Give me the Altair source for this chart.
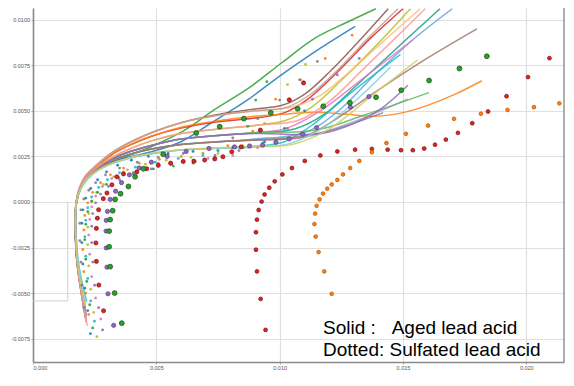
import altair as alt
import pandas as pd

# ---------------- data (values in units of 1e-3) ----------------
X_MAX = 21.53
Y_MIN, Y_MAX = -8.78, 10.64
X_TICKS = [0, 5, 10, 15, 20]
Y_TICKS = [-7.5, -5.0, -2.5, 0.0, 2.5, 5.0, 7.5, 10.0]

# Solid lines: aged lead acid
SOLID_01 = [(2.12,-6.0),(1.96,-4.9),(1.80,-3.4),(1.73,-2.0),(1.72,-0.8),(1.76,0.0),(1.90,0.7),(2.15,1.25),(2.6,1.75),(3.2,2.15),(4.0,2.6),(4.9,3.1),(6.1,3.9),(7.4,5.1),(8.8,6.3),(10.1,7.65),(11.45,9.0),(12.8,9.9),(13.9,10.6)]
SOLID_02 = [(2.10,-5.6),(1.95,-4.7),(1.80,-3.3),(1.73,-1.9),(1.72,-0.7),(1.77,0.05),(1.92,0.75),(2.2,1.35),(2.7,1.85),(3.3,2.25),(4.0,2.5),(4.8,2.75),(6.0,3.3),(7.3,4.4),(8.7,5.6),(10.1,7.0),(11.5,8.3),(13.06,9.63)]
SOLID_03 = [(2.14,-6.3),(1.97,-5.0),(1.80,-3.5),(1.72,-2.0),(1.71,-0.8),(1.75,0.0),(1.88,0.75),(2.12,1.4),(2.6,2.05),(3.2,2.7),(3.9,3.25),(4.8,3.8),(6.0,4.35),(7.5,4.8),(9.0,5.1),(10.1,5.3),(11.0,5.9),(12.0,7.1),(13.2,8.8),(14.4,10.6)]
SOLID_04 = [(2.10,-6.1),(1.95,-4.9),(1.79,-3.4),(1.72,-2.0),(1.72,-0.8),(1.76,0.0),(1.89,0.72),(2.14,1.35),(2.6,1.95),(3.2,2.6),(3.9,3.1),(4.8,3.6),(6.0,4.05),(7.5,4.4),(9.0,4.6),(10.2,4.9),(11.2,5.7),(12.4,7.2),(13.7,9.0),(15.0,10.6)]
SOLID_05 = [(2.16,-6.6),(1.98,-5.2),(1.81,-3.6),(1.73,-2.1),(1.72,-0.8),(1.76,0.0),(1.90,0.72),(2.15,1.35),(2.6,1.95),(3.2,2.6),(3.9,3.1),(4.8,3.6),(6.0,4.1),(7.5,4.45),(9.0,4.7),(10.5,4.85),(11.5,4.92),(12.6,4.82),(13.9,4.7),(15.0,4.9),(16.0,5.3),(17.1,5.9),(18.2,6.65)]
SOLID_06 = [(2.12,-6.2),(1.96,-5.0),(1.80,-3.5),(1.73,-2.0),(1.72,-0.8),(1.77,0.0),(1.91,0.7),(2.16,1.3),(2.6,1.9),(3.2,2.45),(3.9,2.9),(4.8,3.35),(6.0,3.75),(7.5,4.0),(9.0,4.2),(10.2,4.45),(11.3,5.2),(12.6,6.8),(14.0,8.7),(15.3,10.6)]
SOLID_07 = [(2.18,-6.5),(2.0,-5.1),(1.82,-3.5),(1.74,-2.0),(1.72,-0.8),(1.75,0.0),(1.87,0.75),(2.1,1.4),(2.6,2.05),(3.2,2.7),(3.9,3.25),(4.8,3.8),(6.0,4.35),(7.5,4.75),(9.0,5.0),(10.5,5.2),(11.6,5.8),(12.8,7.1),(14.2,8.8),(15.7,10.6)]
SOLID_08 = [(2.08,-5.7),(1.94,-4.7),(1.79,-3.3),(1.72,-1.9),(1.71,-0.7),(1.76,0.05),(1.90,0.72),(2.15,1.3),(2.6,1.85),(3.2,2.35),(3.9,2.75),(4.8,3.1),(6.0,3.45),(7.5,3.65),(9.0,3.8),(10.6,4.0),(11.8,4.8),(13.2,6.5),(14.8,8.5),(16.5,10.6)]
SOLID_09 = [(2.14,-6.4),(1.97,-5.0),(1.81,-3.5),(1.73,-2.0),(1.72,-0.8),(1.77,0.0),(1.92,0.7),(2.18,1.28),(2.6,1.8),(3.2,2.25),(3.9,2.6),(4.8,2.9),(6.0,3.15),(7.5,3.3),(9.0,3.45),(11.0,3.8),(12.3,4.9),(13.8,6.9),(15.4,8.9),(17.0,10.6)]
SOLID_10 = [(2.18,-5.45),(2.02,-4.6),(1.84,-3.3),(1.75,-1.9),(1.73,-0.7),(1.78,0.05),(1.93,0.7),(2.2,1.25),(2.6,1.7),(3.2,2.1),(3.9,2.4),(4.8,2.65),(6.0,2.85),(7.5,2.95),(9.0,3.05),(10.2,3.3),(11.4,4.3),(12.9,6.0),(14.9,8.1)]
SOLID_11 = [(2.14,-6.45),(1.97,-5.1),(1.81,-3.6),(1.73,-2.1),(1.72,-0.8),(1.76,0.0),(1.90,0.72),(2.15,1.32),(2.6,1.85),(3.2,2.35),(3.9,2.75),(4.8,3.1),(6.0,3.45),(7.5,3.65),(9.0,3.8),(10.3,4.05),(11.6,4.95),(13.4,6.8),(15.4,8.9)]
SOLID_12 = [(2.1,-6.0),(1.95,-4.9),(1.80,-3.4),(1.73,-2.0),(1.72,-0.8),(1.77,0.0),(1.91,0.7),(2.16,1.3),(2.6,1.8),(3.2,2.25),(3.9,2.6),(4.8,2.9),(6.0,3.15),(7.5,3.3),(9.0,3.4),(11.0,3.55),(13.0,4.4),(15.2,5.65)]
SOLID_13 = [(2.12,-5.8),(1.96,-4.8),(1.80,-3.4),(1.73,-2.0),(1.72,-0.8),(1.76,0.0),(1.9,0.7),(2.15,1.3),(2.6,1.85),(3.2,2.35),(3.9,2.75),(4.8,3.1),(6.0,3.45),(7.5,3.65),(9.0,3.8),(11.5,3.95),(13.5,4.8),(16.05,6.0)]
SOLID_14 = [(2.16,-6.2),(1.98,-5.0),(1.81,-3.5),(1.73,-2.0),(1.72,-0.8),(1.77,0.0),(1.91,0.7),(2.16,1.3),(2.6,1.8),(3.2,2.25),(3.9,2.6),(4.8,2.9),(6.0,3.15),(7.5,3.3),(9.0,3.4),(10.2,3.5),(12.0,3.9),(14.2,4.9)]
SOLID_15 = [(2.12,-5.9),(1.96,-4.8),(1.80,-3.4),(1.73,-2.0),(1.72,-0.8),(1.77,0.0),(1.91,0.7),(2.16,1.3),(2.6,1.8),(3.2,2.25),(3.9,2.6),(4.8,2.9),(6.0,3.15),(7.5,3.3),(9.0,3.4),(10.9,3.55),(12.0,4.3),(13.9,6.05),(16.0,7.9),(18.0,9.5)]
SOLID_16 = [(2.14,-6.3),(1.97,-5.0),(1.81,-3.5),(1.73,-2.0),(1.72,-0.8),(1.76,0.0),(1.9,0.72),(2.15,1.32),(2.6,1.85),(3.2,2.35),(3.9,2.75),(4.8,3.1),(6.0,3.45),(7.5,3.65),(9.0,3.75),(11.7,3.75),(13.0,4.3),(14.1,5.1),(15.2,6.4)]
SOLID_17 = [(2.2,-6.8),(2.0,-5.3),(1.82,-3.7),(1.74,-2.1),(1.72,-0.8),(1.76,0.0),(1.90,0.72),(2.15,1.33),(2.6,1.9),(3.2,2.45),(3.9,2.9),(4.8,3.35),(6.0,3.75),(7.5,4.0),(9.0,4.2),(10.8,4.5),(12.0,5.5),(13.4,7.3),(14.7,9.0),(15.9,10.6)]
SOLID_18 = [(2.15,-5.5),(2.0,-4.6),(1.83,-3.3),(1.75,-1.9),(1.73,-0.7),(1.78,0.05),(1.93,0.7),(2.2,1.25),(2.6,1.7),(3.2,2.1),(3.9,2.4),(4.8,2.65),(6.0,2.85),(7.5,2.95),(9.0,3.0),(10.4,3.2),(11.8,4.1),(13.2,5.7),(14.5,7.4)]
SOLID_19 = [(2.16,-6.3),(1.98,-5.0),(1.81,-3.5),(1.73,-2.0),(1.71,-0.8),(1.75,0.0),(1.88,0.75),(2.12,1.4),(2.6,2.05),(3.2,2.7),(3.9,3.25),(4.8,3.8),(6.0,4.35),(7.5,4.75),(9.0,5.0),(10.3,5.2),(11.3,5.95),(12.4,7.3),(13.6,9.0),(14.8,10.6)]
SOLID_20 = [(2.12,-5.7),(1.96,-4.7),(1.81,-3.3),(1.73,-1.9),(1.72,-0.7),(1.77,0.05),(1.92,0.7),(2.18,1.27),(2.6,1.72),(3.2,2.12),(3.9,2.42),(4.8,2.67),(6.0,2.87),(7.5,2.97),(9.0,3.05),(10.5,3.15),(12.0,4.0),(13.8,5.9),(15.6,7.8)]

# Dotted series: sulfated lead acid
DOT_RED_LOOP = [(9.43,-7.02),(9.23,-5.32),(9.08,-3.81),(9.04,-2.62),(9.04,-1.66),(9.08,-0.97),(9.15,-0.44),(9.27,0.02),(9.39,0.41),(9.58,0.78),(9.80,1.13),(10.11,1.51),(10.50,1.86),(11.02,2.25),(11.65,2.55),(12.34,2.77),(13.06,2.87),(13.74,2.91),(14.38,2.87),(14.92,2.84),(15.40,2.84),(15.86,2.93),(16.30,3.14),(16.74,3.42),(17.23,3.79),(17.81,4.32),(18.45,4.96),(19.20,5.80),(20.07,6.85),(20.94,7.89)]
DOT_ORANGE_LOOP = [(12.11,-5.04),(11.81,-3.81),(11.58,-2.75),(11.46,-1.90),(11.41,-1.21),(11.44,-0.64),(11.50,-0.21),(11.62,0.14),(11.76,0.46),(11.93,0.73),(12.11,0.96),(12.34,1.21),(12.57,1.51),(12.86,1.86),(13.23,2.25),(13.74,2.73),(14.33,3.23),(15.12,3.74),(16.02,4.19),(17.07,4.56),(18.16,4.84),(19.24,5.05),(20.31,5.20),(21.34,5.41)]
DOT_GREEN_BIG = [(3.60,-6.65),(3.31,-5.00),(3.13,-3.55),(3.09,-2.46),(3.09,-1.60),(3.13,-0.97),(3.23,-0.48),(3.33,0.14),(3.55,0.45),(3.87,0.85),(4.14,1.38),(4.48,1.82),(5.28,2.62),(6.62,3.78),(7.57,4.13),(8.55,4.57),(9.64,4.89),(10.73,5.11),(11.77,5.25),(12.85,5.44),(13.91,5.74),(14.93,6.13),(16.06,6.66),(17.29,7.32),(18.40,7.99)]
DOT_PURPLE = [(3.27,-6.77),(3.04,-5.04),(3.00,-3.58),(2.97,-2.52),(2.96,-1.60),(2.97,-1.01),(3.02,-0.52),(3.13,0.14),(3.35,0.59),(3.59,1.06),(3.91,1.49),(4.31,1.86),(4.80,2.18),(5.44,2.50),(6.21,2.77),(7.14,2.93),(8.17,3.02),(8.78,3.07),(9.31,3.12),(9.85,3.28),(10.39,3.46),(10.93,3.72),(11.50,4.08),(12.87,5.20),(13.62,5.78)]
DOT_RED = [(2.86,-5.97),(2.67,-4.56),(2.57,-3.26),(2.55,-2.25),(2.57,-1.45),(2.61,-0.89),(2.66,-0.43),(2.85,0.18),(3.00,0.49),(3.20,0.94),(3.40,1.38),(3.67,1.54),(4.21,1.65),(4.61,1.82),(5.08,2.01),(5.58,2.13),(6.09,2.22),(6.53,2.23),(6.96,2.30),(7.37,2.36),(7.70,2.48),(8.06,2.75),(8.44,3.02),(9.22,3.94),(10.39,5.60),(10.97,6.53)]
DOT_BLUE = [(2.33,-7.22),(2.22,-5.96),(2.10,-4.73),(2.02,-3.40),(1.98,-2.23),(1.98,-1.17),(2.02,-0.43),(2.14,0.21),(2.34,0.74),(2.62,1.22),(2.98,1.65),(3.43,2.02),(3.99,2.29),(4.68,2.50),(5.48,2.66),(6.49,2.77),(7.50,2.82),(8.51,2.98),(9.39,3.30),(10.20,4.04),(11.01,5.00)]
DOT_ORANGE = [(2.26,-6.17),(2.14,-5.00),(2.06,-3.83),(2.02,-2.61),(2.06,-1.54),(2.10,-0.74),(2.22,-0.05),(2.42,0.53),(2.74,1.06),(3.14,1.49),(3.67,1.86),(4.31,2.13),(5.12,2.34),(6.01,2.50),(6.89,2.66),(7.90,3.09),(8.91,3.88),(9.84,5.64),(10.85,6.70),(11.85,7.87),(12.94,9.15)]
DOT_PINK = [(2.75,-6.42),(2.54,-5.27),(2.38,-4.10),(2.30,-2.87),(2.26,-1.81),(2.30,-0.96),(2.38,-0.27),(2.54,0.32),(2.82,0.85),(3.19,1.28),(3.67,1.65),(4.27,1.91),(5.08,2.13),(6.09,2.29),(7.10,2.39),(8.10,2.55),(9.11,2.98),(10.04,3.78)]
DOT_CYAN = [(2.49,-6.54),(2.34,-5.43),(2.22,-4.20),(2.14,-2.98),(2.10,-1.91),(2.14,-1.01),(2.22,-0.32),(2.38,0.27),(2.66,0.80),(3.02,1.22),(3.51,1.60),(4.15,1.91),(4.96,2.18),(5.89,2.39),(6.89,2.55),(7.50,2.82),(8.51,2.98),(9.31,3.24)]
DOT_OLIVE = [(2.59,-7.39),(2.46,-6.06),(2.34,-4.79),(2.26,-3.51),(2.22,-2.34),(2.22,-1.38),(2.26,-0.64),(2.38,0.0),(2.58,0.53),(2.86,0.96),(3.27,1.38),(3.83,1.76),(4.56,2.07),(5.40,2.29),(6.41,2.45),(7.50,2.66),(8.51,3.09),(9.39,4.31),(10.32,6.44),(11.05,7.55)]
DOT_GRAY = [(2.06,-5.80),(1.98,-4.57),(1.94,-3.30),(1.90,-2.13),(1.90,-1.17),(1.94,-0.43),(2.06,0.16),(2.26,0.64),(2.54,1.06),(2.94,1.49),(3.51,1.86),(4.23,2.18),(5.08,2.45),(6.09,2.66),(7.10,2.98),(8.10,3.51),(9.11,4.57),(10.00,5.59),(10.81,6.70),(11.53,7.71)]
DOT_GREEN = [(2.42,-6.91),(2.30,-5.64),(2.18,-4.36),(2.14,-3.14),(2.10,-2.07),(2.14,-1.22),(2.22,-0.53),(2.38,0.05),(2.62,0.53),(2.98,0.96),(3.47,1.33),(4.07,1.60),(4.88,1.81),(5.69,1.97),(6.49,2.13),(7.38,2.45),(8.10,2.98),(8.71,4.15),(9.03,5.59),(9.48,6.60)]
DOT_LAVENDER = [(2.82,-7.02),(2.66,-5.80),(2.50,-4.57),(2.42,-3.30),(2.38,-2.23),(2.38,-1.33),(2.42,-0.64),(2.54,-0.05),(2.74,0.43),(3.06,0.85),(3.51,1.22),(4.07,1.54),(4.80,1.81),(5.60,2.07),(6.49,2.29),(7.38,2.55),(8.35,2.82),(9.31,3.09),(10.32,4.04),(11.33,5.64),(12.34,6.97),(13.23,7.87)]

# faint box outline at the lower left
BOX_X = [0.0, 1.41, 1.41]
BOX_Y = [-5.43, -5.43, 0.0]

TEXT_LINE_1 = "Solid :\u00a0\u00a0\u00a0Aged lead acid"
TEXT_LINE_2 = "Dotted: Sulfated lead acid"

# ---------------- styles ----------------
SOLID_SERIES = [
    ("s01", SOLID_01, "#2ca02c"), ("s02", SOLID_02, "#1f77b4"), ("s03", SOLID_03, "#8c564b"),
    ("s04", SOLID_04, "#d62728"), ("s05", SOLID_05, "#ff7f0e"), ("s06", SOLID_06, "#bcbd22"),
    ("s07", SOLID_07, "#ffbb78"), ("s08", SOLID_08, "#1b9e77"), ("s09", SOLID_09, "#5fa2dd"),
    ("s10", SOLID_10, "#17becf"), ("s11", SOLID_11, "#e377c2"), ("s12", SOLID_12, "#b39ddb"),
    ("s13", SOLID_13, "#5cb85c"), ("s14", SOLID_14, "#7f7f7f"), ("s15", SOLID_15, "#a1786b"),
    ("s16", SOLID_16, "#9467bd"), ("s17", SOLID_17, "#ff9896"), ("s18", SOLID_18, "#7fd1dd"),
    ("s19", SOLID_19, "#c49c94"), ("s20", SOLID_20, "#cfcf6a"),
]
SMALL_DOTS = [
    (DOT_BLUE, "#1f77b4"), (DOT_ORANGE, "#ff7f0e"), (DOT_PINK, "#e377c2"),
    (DOT_CYAN, "#17becf"), (DOT_OLIVE, "#bcbd22"), (DOT_GRAY, "#7f7f7f"),
    (DOT_GREEN, "#2ca02c"), (DOT_LAVENDER, "#9467bd"),
]
# (data, fill, stroke, size)
BIG_DOTS = [
    (DOT_RED, "#d62728", "#8b0a0a", 17),
    (DOT_PURPLE, "#9467bd", "#5a3a80", 18),
    (DOT_GREEN_BIG, "#2ca02c", "#0d4f0d", 24),
    (DOT_RED_LOOP, "#d62728", "#8b0a0a", 15),
    (DOT_ORANGE_LOOP, "#ff7f0e", "#b85400", 14),
]

S = 0.001

def to_df(pts, name=""):
    return pd.DataFrame({
        "x": [p[0] * S for p in pts],
        "y": [p[1] * S for p in pts],
        "idx": list(range(len(pts))),
        "series": [name] * len(pts),
    })

xscale = alt.Scale(domain=[0, X_MAX * S], nice=False, zero=False)
yscale = alt.Scale(domain=[Y_MIN * S, Y_MAX * S], nice=False, zero=False)

axis_common = dict(
    title=None, labelFontSize=5.5, labelColor="#555555", labelFont="Liberation Sans",
    tickSize=2, tickColor="#aaaaaa", domainColor="#8a8a8a", domainWidth=1.6,
    gridColor="#e0e0e0", gridWidth=1.2, labelPadding=1.5,
)
xaxis = alt.Axis(values=[v * S for v in X_TICKS],
                 labelExpr="replace(format(datum.value, '.3f'), '\u2212', '-')", **axis_common)
yaxis = alt.Axis(values=[v * S for v in Y_TICKS],
                 labelExpr="replace(format(datum.value, '.4f'), '\u2212', '-')", **axis_common)

def X():
    return alt.X("x:Q", scale=xscale, axis=xaxis)

def Y():
    return alt.Y("y:Q", scale=yscale, axis=yaxis)

layers = []

# faint box outline
box_df = pd.DataFrame({"x": [v * S for v in BOX_X], "y": [v * S for v in BOX_Y], "idx": [0, 1, 2]})
layers.append(alt.Chart(box_df).mark_line(color="#cfcfcf", strokeWidth=1).encode(x=X(), y=Y(), order="idx:Q"))

# solid lines
solid_df = pd.concat([to_df(d, n) for n, d, c in SOLID_SERIES], ignore_index=True)
layers.append(
    alt.Chart(solid_df).mark_line(interpolate="catmull-rom", strokeWidth=1.5, opacity=0.85, clip=True).encode(
        x=X(), y=Y(), order="idx:Q",
        color=alt.Color("series:N", scale=alt.Scale(domain=[n for n, d, c in SOLID_SERIES],
                                                    range=[c for n, d, c in SOLID_SERIES]), legend=None),
    )
)

# small dots
for d, c in SMALL_DOTS:
    layers.append(alt.Chart(to_df(d)).mark_circle(size=8, color=c, opacity=0.9, clip=True).encode(x=X(), y=Y()))

# large dots
for d, fill, stroke, size in BIG_DOTS:
    layers.append(alt.Chart(to_df(d)).mark_point(filled=True, size=size, fill=fill, stroke=stroke,
                                                 strokeWidth=0.7, opacity=1, clip=True).encode(x=X(), y=Y()))

# right frame edge
layers.append(alt.Chart(pd.DataFrame({"x": [X_MAX * S]})).mark_rule(color="#9a9a9a", strokeWidth=1.6).encode(
    x=alt.X("x:Q", scale=xscale, axis=xaxis)))

# annotation text
txt = pd.DataFrame({"t": [0]})
layers.append(alt.Chart(txt).mark_text(text=TEXT_LINE_1, align="left", baseline="alphabetic", fontSize=19,
                                       font="Liberation Sans", color="black").encode(
    x=alt.value(290), y=alt.value(326)))
layers.append(alt.Chart(txt).mark_text(text=TEXT_LINE_2, align="left", baseline="alphabetic", fontSize=19,
                                       font="Liberation Sans", color="black").encode(
    x=alt.value(290), y=alt.value(348)))

chart = alt.layer(*layers).properties(
    width=531, height=354,
    autosize=alt.AutoSizeParams(type="none"),
    padding={"left": 25, "top": 0, "right": 2, "bottom": 10},
    background="white",
).configure_view(stroke=None)

chart.save("out.html", embed_options={"renderer": "svg", "actions": False})
